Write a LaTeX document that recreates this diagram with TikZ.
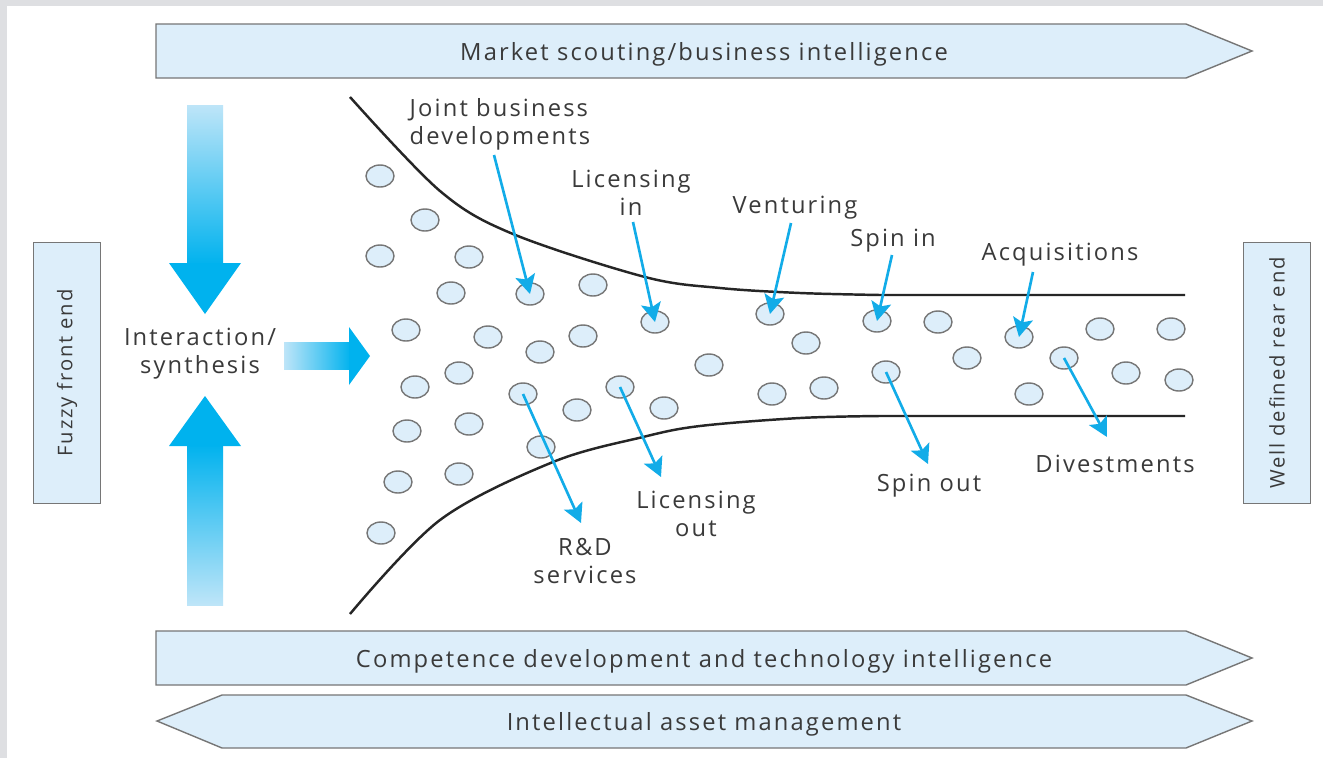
\documentclass[tikz,border=0pt]{standalone}
\usepackage{fontspec}
\setmainfont{Open Sans}[LetterSpace=9]
\usetikzlibrary{positioning,shapes.geometric,arrows.meta}
\definecolor{paleblue}{RGB}{221,238,250}
\definecolor{edgegray}{RGB}{118,118,118}
\definecolor{arrowblue}{RGB}{18,172,232}
\definecolor{brightblue}{RGB}{0,178,238}
\definecolor{fadeblue}{RGB}{190,229,248}
\definecolor{textgray}{RGB}{58,58,58}
\definecolor{framegray}{RGB}{222,223,226}

\begin{document}
\begin{tikzpicture}[x=0.02cm, y=-0.02cm,
        dot/.style={ellipse, draw=edgegray, fill=paleblue, line width=0.8pt, minimum width=0.56cm, minimum height=0.44cm, inner sep=0pt},
        lbl/.style={text=textgray, font=\fontsize{13.5}{16}\selectfont, align=center, inner sep=1pt, yshift=-0.06cm},
        sidelbl/.style={band, rotate=90, text=textgray, font=\fontsize{11.5}{14}\selectfont, minimum width=5.22cm, minimum height=1.33cm, inner sep=0pt},
        band/.style={draw=edgegray, fill=paleblue, line width=0.8pt},
        pointer/.style={draw=arrowblue, line width=1.5pt, -{Stealth[length=0.38cm, width=0.4cm, inset=0.08cm]}},
        funnel/.style={draw=black!85, line width=1.4pt}]

        \useasboundingbox (0,0) rectangle (1323,758);
        \fill[framegray] (0,0) rectangle (1323,758);
        \fill[white] (7,6) rectangle (1323,758);

        \draw[band] (156,24) -- (1186,24) -- (1252,51) -- (1186,78) -- (156,78) -- cycle;
        \draw[band] (156,631) -- (1186,631) -- (1252,658) -- (1186,685) -- (156,685) -- cycle;
        \draw[band] (157,721) -- (222,695) -- (1186,695) -- (1252,721) -- (1186,748) -- (222,748) -- cycle;
        \node[lbl] (market) at (704,51) {Market scouting/business intelligence};
        \node[lbl] (competence) at (704,658) {Competence development and technology intelligence};
        \node[lbl] (asset) at (704,721) {Intellectual asset management};

        \node[sidelbl] (fuzzy) at (67,373) {Fuzzy front end};
        \node[sidelbl] (rear) at (1277,373) {Well defined rear end};

        \shade[top color=fadeblue, bottom color=brightblue] (187,105) rectangle (223,265);
        \fill[brightblue] (169,263) -- (241,263) -- (205,314) -- cycle;
        \shade[top color=brightblue, bottom color=fadeblue] (187,444) rectangle (223,605);
        \fill[brightblue] (169,446) -- (241,446) -- (205,396) -- cycle;
        \shade[left color=fadeblue, right color=brightblue] (284,342) rectangle (351,369);
        \fill[brightblue] (349,327) -- (370,356) -- (349,385) -- cycle;
        \node[lbl] (interaction) at (200,351) {Interaction/\\synthesis};

        \draw[funnel] plot[smooth, tension=0.55] coordinates {(350,97) (440,191) (513,234) (645,277) (720,288) (800,293) (880,295)} -- (1185,295);
        \draw[funnel] plot[smooth, tension=0.55] coordinates {(350,614) (440,520) (553,462) (643,437) (700,426) (800,418) (880,416)} -- (1185,416);

        \node[dot] (1) at (380,176) {};
        \node[dot] (2) at (425,220) {};
        \node[dot] (3) at (380,256) {};
        \node[dot] (4) at (469,257) {};
        \node[dot] (5) at (451,293) {};
        \node[dot] (6) at (530,294) {};
        \node[dot] (7) at (593,285) {};
        \node[dot] (8) at (406,330) {};
        \node[dot] (9) at (488,337) {};
        \node[dot] (10) at (583,336) {};
        \node[dot] (11) at (540,352) {};
        \node[dot] (12) at (655,322) {};
        \node[dot] (13) at (459,373) {};
        \node[dot] (14) at (415,387) {};
        \node[dot] (15) at (523,394) {};
        \node[dot] (16) at (620,387) {};
        \node[dot] (17) at (577,410) {};
        \node[dot] (18) at (664,408) {};
        \node[dot] (19) at (709,365) {};
        \node[dot] (20) at (407,431) {};
        \node[dot] (21) at (469,424) {};
        \node[dot] (22) at (541,447) {};
        \node[dot] (23) at (398,482) {};
        \node[dot] (24) at (459,474) {};
        \node[dot] (25) at (381,533) {};
        \node[dot] (26) at (770,314) {};
        \node[dot] (27) at (806,343) {};
        \node[dot] (28) at (772,394) {};
        \node[dot] (29) at (824,388) {};
        \node[dot] (30) at (877,321) {};
        \node[dot] (31) at (938,322) {};
        \node[dot] (32) at (967,358) {};
        \node[dot] (33) at (886,372) {};
        \node[dot] (34) at (1019,337) {};
        \node[dot] (35) at (1064,358) {};
        \node[dot] (36) at (1029,394) {};
        \node[dot] (37) at (1100,329) {};
        \node[dot] (38) at (1171,329) {};
        \node[dot] (39) at (1126,373) {};
        \node[dot] (40) at (1179,380) {};

        \node[lbl, align=left] (joint) at (500,121) {Joint business\\developments};
        \node[lbl] (licin) at (631,190) {Licensing\\in};
        \node[lbl] (venturing) at (795,205) {Venturing};
        \node[lbl] (spinin) at (893,238) {Spin in};
        \node[lbl] (acquisitions) at (1060,252) {Acquisitions};
        \node[lbl] (divestments) at (1115,461) {Divestments};
        \node[lbl] (spinout) at (929,483) {Spin out};
        \node[lbl] (licout) at (696,511) {Licensing\\out};
        \node[lbl] (rnd) at (585,558) {R\&D\\services};

        \coordinate (jointtail) at (494,155);
        \coordinate (lictail) at (633,222);
        \coordinate (ventail) at (791,223);
        \coordinate (spintail) at (892,255);
        \coordinate (acqtail) at (1033,272);
        \coordinate (rndhead) at (581,523);
        \coordinate (licouthead) at (661,477);
        \coordinate (spinouthead) at (928,464);
        \coordinate (divhead) at (1107,437);

        \draw[pointer] (jointtail) -- (6.center);
        \draw[pointer] (lictail) -- (12.center);
        \draw[pointer] (ventail) -- (26.center);
        \draw[pointer] (spintail) -- (30.center);
        \draw[pointer] (acqtail) -- (34.center);
        \draw[pointer] (15.center) -- (rndhead);
        \draw[pointer] (16.center) -- (licouthead);
        \draw[pointer] (33.center) -- (spinouthead);
        \draw[pointer] (35.center) -- (divhead);

\end{tikzpicture}
\end{document}
